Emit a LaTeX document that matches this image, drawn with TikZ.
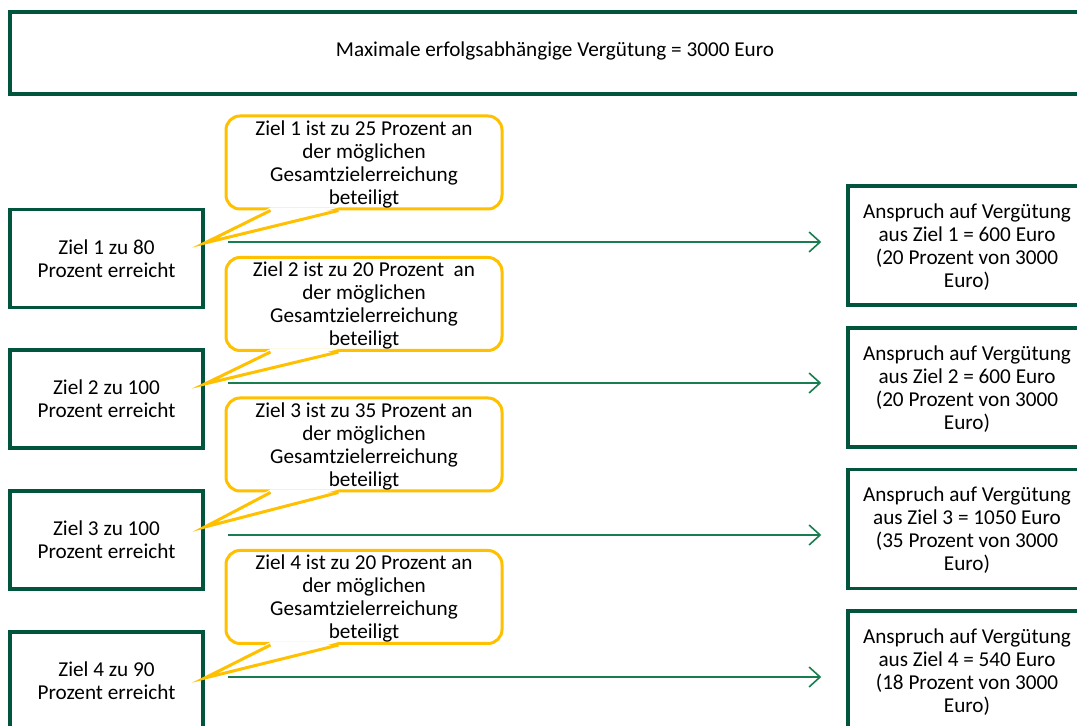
\documentclass[tikz,border=0pt]{standalone}
\usepackage{fontspec}
\setmainfont{Carlito}
\usepackage{xcolor}
\usepackage{tikz}
\usetikzlibrary{calc}
\usetikzlibrary{arrows.meta,positioning}

\definecolor{dunkelgruen}{RGB}{0,85,60}
\definecolor{pfeilgruen}{RGB}{25,125,80}
\definecolor{gelb}{RGB}{255,192,0}

\tikzset{
  kasten/.style={draw=dunkelgruen,line width=1.75pt,inner sep=0pt,align=center,font=\fontsize{10.6}{11.5}\selectfont},
  ziel/.style={kasten,minimum width=96.5pt,minimum height=49pt},
  anspruch/.style={kasten,minimum width=119pt,minimum height=59.5pt,text depth=0pt},
  blase/.style={draw=gelb,line width=1.5pt,rounded corners=7pt,fill=white,minimum width=138pt,minimum height=46.5pt,inner sep=0pt,align=center,text depth=0pt,font=\fontsize{10.6}{11.5}\selectfont},
  zeiger/.style={draw=gelb,line width=1.5pt},
  pfeil/.style={draw=pfeilgruen,line width=0.8pt,shorten >=12.5pt,-{Straight Barb[length=5.5pt,width=10pt]}}
}

\begin{document}
\begin{tikzpicture}[x=0.5pt,y=-0.5pt]
 	\useasboundingbox (0,0) rectangle (1077,726);
 	\clip (0,0) rectangle (1077,726);
 	% Kopfzeile
 	\node[kasten,minimum width=545pt,minimum height=41pt,text depth=4pt] (titel) at (555,53) {Maximale erfolgsabhängige Vergütung = 3000 Euro};
 	% Ziele links
 	\node[ziel] (z1) at (106.5,258.5) {Ziel 1 zu 80\\Prozent erreicht};
 	\node[ziel] (z2) at (106.5,399) {Ziel 2 zu 100\\Prozent erreicht};
 	\node[ziel] (z3) at (106.5,540) {Ziel 3 zu 100\\Prozent erreicht};
 	\node[ziel] (z4) at (106.5,681) {Ziel 4 zu 90\\Prozent erreicht};
 	% Ansprueche rechts
 	\node[anspruch] (a1) at (967,245.5) {Anspruch auf Vergütung\\aus Ziel 1 = 600 Euro\\(20 Prozent von 3000\\Euro)};
 	\node[anspruch] (a2) at (967,387.5) {Anspruch auf Vergütung\\aus Ziel 2 = 600 Euro\\(20 Prozent von 3000\\Euro)};
 	\node[anspruch] (a3) at (967,529) {Anspruch auf Vergütung\\aus Ziel 3 = 1050 Euro\\(35 Prozent von 3000\\Euro)};
 	\node[anspruch] (a4) at (967,670.5) {Anspruch auf Vergütung\\aus Ziel 4 = 540 Euro\\(18 Prozent von 3000\\Euro)};
 	% Pfeile
 	\coordinate (s1) at (228,242);
 	\coordinate (s2) at (228,383);
 	\coordinate (s3) at (228,535);
 	\coordinate (s4) at (228,677);
 	\draw[pfeil] (s1) -- (s1 -| a1.west);
 	\draw[pfeil] (s2) -- (s2 -| a2.west);
 	\draw[pfeil] (s3) -- (s3 -| a3.west);
 	\draw[pfeil] (s4) -- (s4 -| a4.west);
 	% Sprechblasen
 	\node[blase] (c1) at (364,162.5) {Ziel 1 ist zu 25 Prozent an\\der möglichen\\Gesamtzielerreichung\\beteiligt};
 	\node[blase] (c2) at (364,304) {Ziel 2 ist zu 20 Prozent~ an\\der möglichen\\Gesamtzielerreichung\\beteiligt};
 	\node[blase] (c3) at (364,444.5) {Ziel 3 ist zu 35 Prozent an\\der möglichen\\Gesamtzielerreichung\\beteiligt};
 	\node[blase] (c4) at (364,597) {Ziel 4 ist zu 20 Prozent an\\der möglichen\\Gesamtzielerreichung\\beteiligt};
 	\coordinate (t1) at ($(z1.east)+(0,-15.5)$);
 	\coordinate (t2) at ($(z2.east)+(0,-15)$);
 	\coordinate (t3) at ($(z3.east)+(0,-13)$);
 	\coordinate (t4) at ($(z4.east)+(0,-3)$);
 	\fill[white] ($(c1.south west)+(46,-3)$) -- (t1) -- ($(c1.south west)+(114,-3)$);
 	\draw[zeiger] ($(c1.south west)+(46,0)$) -- (t1) -- ($(c1.south west)+(114,0)$);
 	\fill[white] ($(c2.south west)+(46,-3)$) -- (t2) -- ($(c2.south west)+(114,-3)$);
 	\draw[zeiger] ($(c2.south west)+(46,0)$) -- (t2) -- ($(c2.south west)+(114,0)$);
 	\fill[white] ($(c3.south west)+(46,-3)$) -- (t3) -- ($(c3.south west)+(114,-3)$);
 	\draw[zeiger] ($(c3.south west)+(46,0)$) -- (t3) -- ($(c3.south west)+(114,0)$);
 	\fill[white] ($(c4.south west)+(46,-3)$) -- (t4) -- ($(c4.south west)+(114,-3)$);
 	\draw[zeiger] ($(c4.south west)+(46,0)$) -- (t4) -- ($(c4.south west)+(114,0)$);
\end{tikzpicture}
\end{document}
